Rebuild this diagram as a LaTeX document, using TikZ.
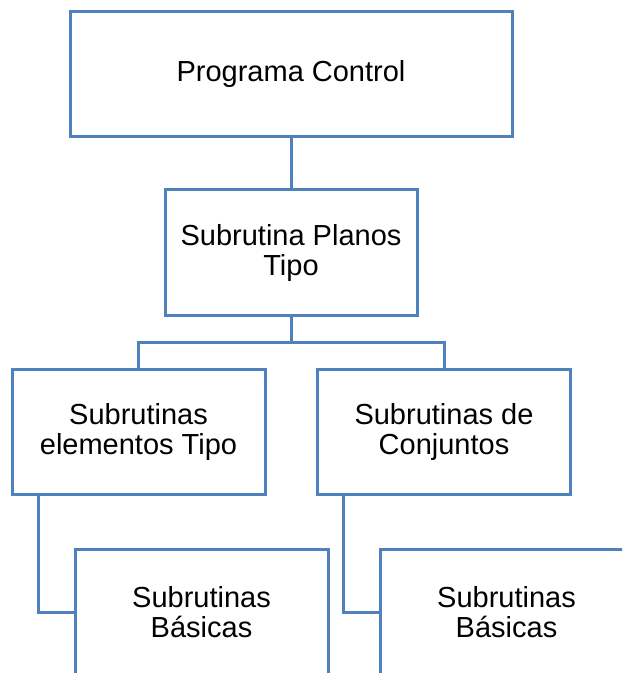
\documentclass[tikz,border=0pt]{standalone}
\usepackage{fontspec}
\setmainfont{Liberation Sans}
\definecolor{boxblue}{HTML}{4F81BD}
\tikzset{
  unit/.style={rectangle, draw=boxblue, line width=1.5pt, minimum width=126.5pt, minimum height=62.5pt, align=center, font=\fontsize{14.5pt}{15pt}\selectfont},
  link/.style={draw=boxblue, line width=1.5pt}
}
\begin{document}
\begin{tikzpicture}[x=0.5pt,y=0.5pt]
      \clip (0,0) rectangle (622,673);
      % Nodes
      \node (control) at (291,598.5) [unit, minimum width=221pt] {Programa Control};
      \node (planos) at (291,420) [unit, minimum width=126pt, minimum height=63pt] {Subrutina Planos\\Tipo};

      \node (elementos) at (138.5,240.5) [unit] {Subrutinas\\elementos Tipo};
      \node (conjuntos) at (444,240.5) [unit] {Subrutinas de\\Conjuntos};

      \node (basicasA) at (201.5,60.5) [unit] {Subrutinas\\Básicas};
      \node (basicasB) at (506.5,60.5) [unit] {Subrutinas\\Básicas};

      \coordinate (bus) at (291,330);

      % Edges
      \draw[link] (control) -- (planos);
      \draw[link] (planos) -- (bus);
      \draw[link] (elementos.north) |- (bus) -| (conjuntos.north);
      \draw[link] (elementos.south -| 38,0) |- (basicasA.west);
      \draw[link] (conjuntos.south -| 343,0) |- (basicasB.west);
    \end{tikzpicture}
\end{document}
